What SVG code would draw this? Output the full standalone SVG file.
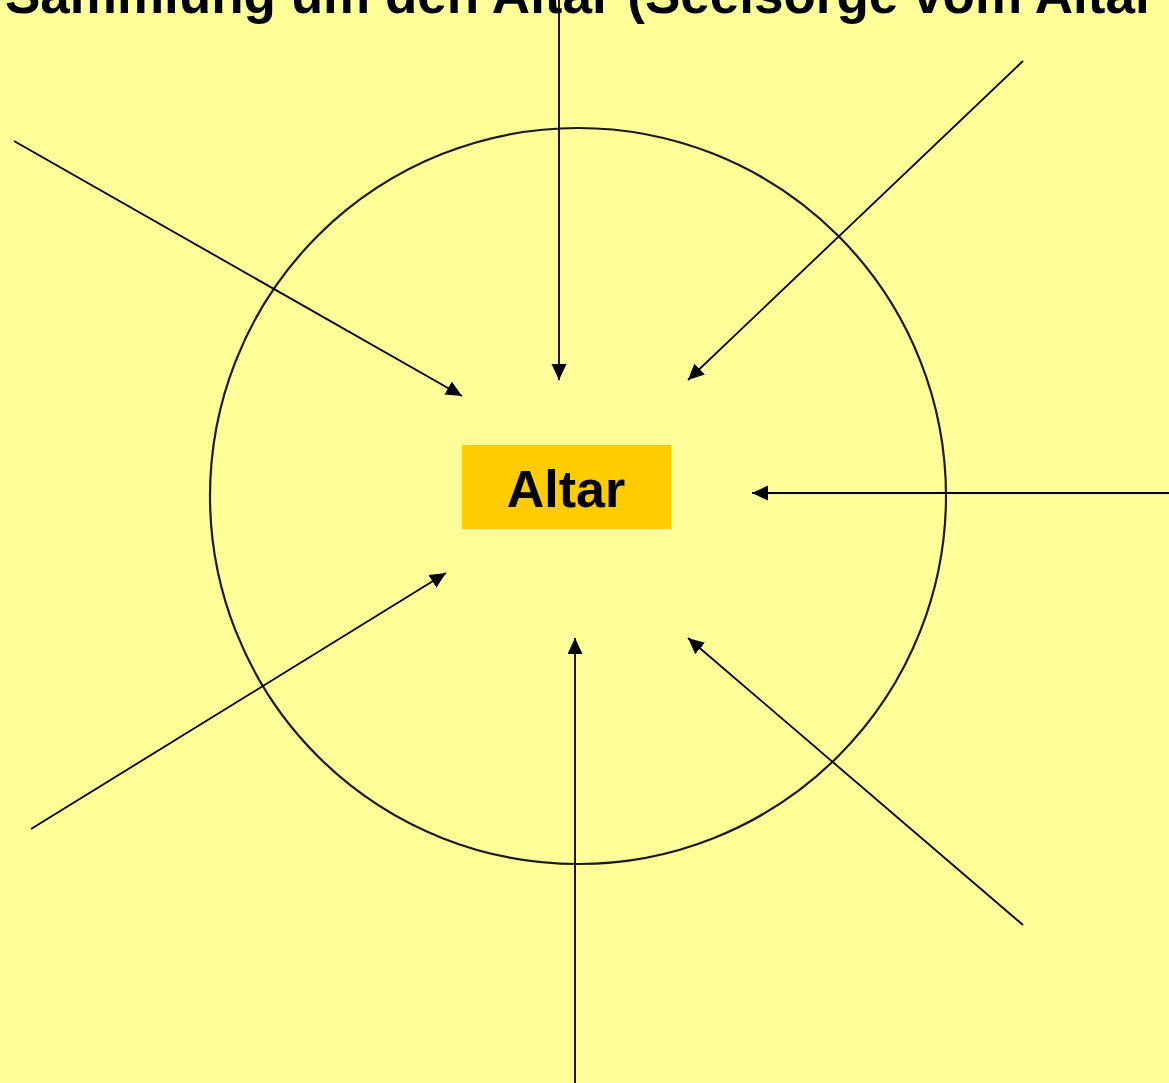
<svg xmlns="http://www.w3.org/2000/svg" width="1169" height="1083" viewBox="0 0 1169 1083">
<style>
.bg{fill:#FFFF99}
.ring{fill:none;stroke:#1a1a1a;stroke-width:2.2}
.conn{stroke:#000;stroke-width:1.8;fill:none;marker-end:url(#ah)}
.title{font-family:"Liberation Sans",Arial,sans-serif;font-weight:bold;font-size:53px;fill:#000}
.lbl{font-family:"Liberation Sans",Arial,sans-serif;font-weight:bold;font-size:52px;fill:#000;text-anchor:middle}
.box{fill:#FFCC00}
</style>
<defs>
<marker id="ah" markerUnits="userSpaceOnUse" markerWidth="17" markerHeight="16" refX="16" refY="7.5" orient="auto">
<path d="M0,0 L16,7.5 L0,15 Z" fill="#000"/>
</marker>
</defs>
<rect class="bg" x="0" y="0" width="1169" height="1083"/>
<text class="title" x="5" y="13">Sammlung um den Altar (Seelsorge vom Altar</text>
<g id="ring"><circle class="ring" cx="578" cy="496" r="368"/></g>
<g id="connectors">
<line class="conn" x1="14" y1="141" x2="462" y2="396"/>
<line class="conn" x1="559" y1="0" x2="559" y2="380"/>
<line class="conn" x1="1023" y1="61" x2="688" y2="380"/>
<line class="conn" x1="1169" y1="493" x2="752" y2="493"/>
<line class="conn" x1="1023" y1="925" x2="688" y2="638"/>
<line class="conn" x1="575" y1="1083" x2="575" y2="638"/>
<line class="conn" x1="31" y1="829" x2="446" y2="573"/>
</g>
<g id="altar">
<rect class="box" x="462" y="445" width="209" height="84"/>
<text class="lbl" x="566" y="507">Altar</text>
</g>
</svg>
